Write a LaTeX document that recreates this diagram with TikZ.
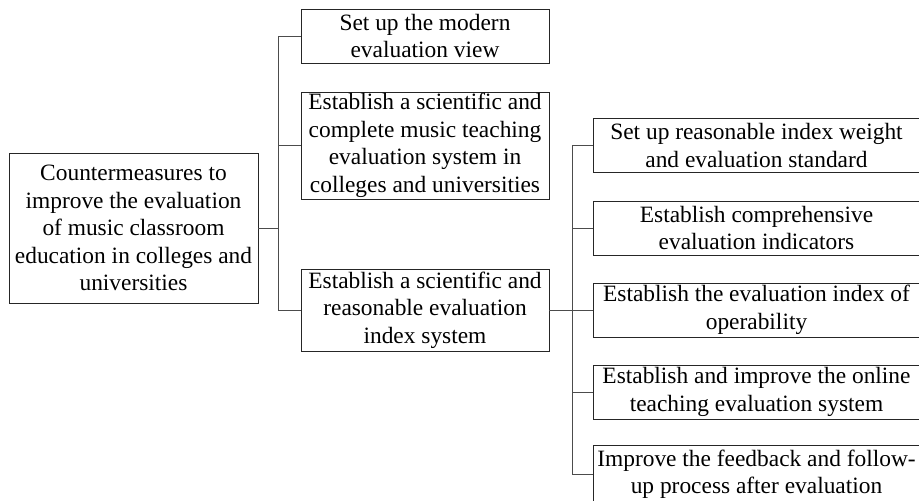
\documentclass[tikz,border=0pt]{standalone}
\usepackage{fontspec}
\setmainfont{Liberation Serif}
\begin{document}
\begin{tikzpicture}[x=1pt,y=-1pt,
  box/.style={draw=black!85, line width=0.9pt, rectangle, inner sep=0pt,
    align=center, font=\fontsize{23.4}{27.5}\selectfont, text=black},
  midbox/.style={box, minimum width=248pt},
  leafbox/.style={box, minimum width=327pt, minimum height=54pt},
  link/.style={draw=black!70, line width=0.9pt}]
\useasboundingbox (0,0) rectangle (919,501);
\clip (0,0) rectangle (919,501);

% root
\node[box, minimum width=249pt, minimum height=150pt] (root) at (133.5,228)
  {Countermeasures to\\improve the evaluation\\of music classroom\\education in colleges and\\universities};

% second level
\node[midbox, minimum height=54pt] (a) at (425,36)
  {Set up the modern\\evaluation view};
\node[midbox, minimum height=107pt] (b) at (425,145.5)
  {Establish a scientific and\\complete music teaching\\evaluation system in\\colleges and universities};
\node[midbox, minimum height=82pt] (c) at (425,310)
  {Establish a scientific and\\reasonable evaluation\\index system};

% third level
\node[leafbox] (r1) at (756.5,145.5) {Set up reasonable index weight\\and evaluation standard};
\node[leafbox] (r2) at (756.5,228) {Establish comprehensive\\evaluation indicators};
\node[leafbox] (r3) at (756.5,310) {Establish the evaluation index of\\operability};
\node[leafbox] (r4) at (756.5,392) {Establish and improve the online\\teaching evaluation system};
\node[leafbox, minimum height=57pt] (r5) at (756.5,474) {Improve the feedback and follow-\\up process after evaluation};

% junctions
\coordinate (j1) at (278,228);
\coordinate (j2) at (572,310);

% connectors
\draw[link] (root.east) -- (j1);
\draw[link] (j1) |- (a.west);
\draw[link] (j1) |- (b.west);
\draw[link] (j1) |- (c.west);

\draw[link] (c.east) -- (j2);
\draw[link] (j2) |- (r1.west);
\draw[link] (j2) |- (r2.west);
\draw[link] (j2) -- (r3.west);
\draw[link] (j2) |- (r4.west);
\draw[link] (j2) |- (r5.west);
\end{tikzpicture}
\end{document}
